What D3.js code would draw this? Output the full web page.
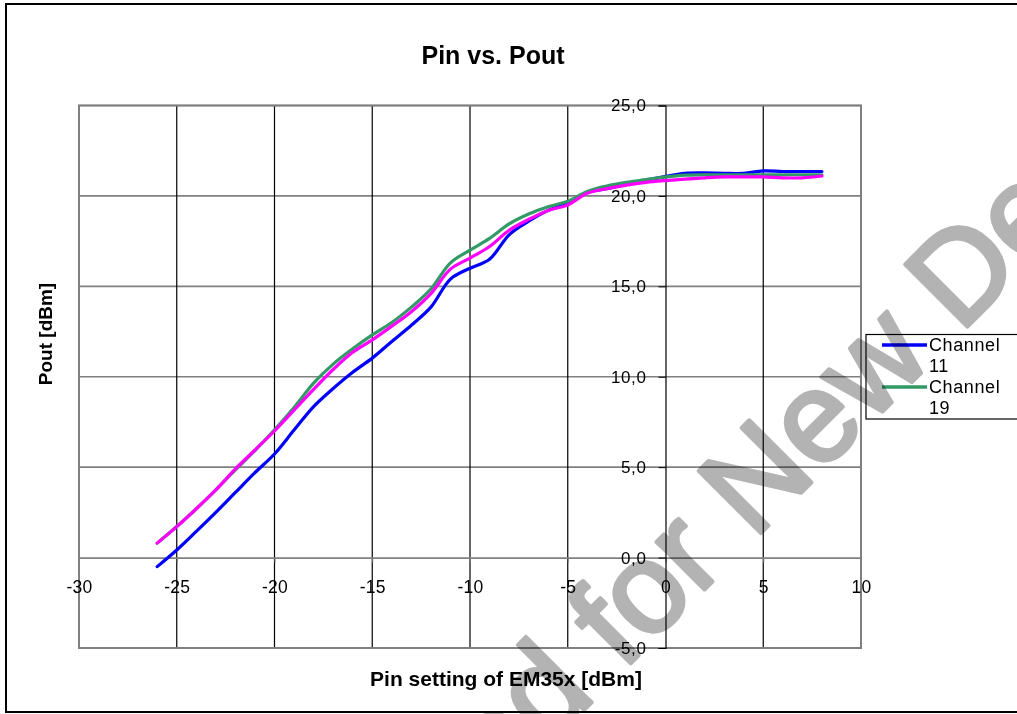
<!DOCTYPE html>
<html>
<head>
<meta charset="utf-8">
<script src="https://cdn.jsdelivr.net/npm/d3@7/dist/d3.min.js"></script>
<style>
    body { margin: 0; background: #fff; }
    svg { display: block; font-family: "Liberation Sans", Arial, sans-serif; }
</style>
</head>
<body>
<svg id="chart" width="1017" height="714"></svg>
<script>
// Pin setting of EM35x [dBm]
const pinSetting = [-26, -25, -24, -23, -22, -21, -20, -19, -18, -17, -16, -15, -14, -13, -12, -11, -10,
    -9, -8, -7, -6, -5, -4, -3, -2, -1, 0, 1, 2, 3, 4, 5, 6, 7, 8];

// Pout [dBm] per channel
const channel11 = [-0.5, 0.42, 1.45, 2.5, 3.6, 4.7, 5.73, 7.05, 8.35, 9.35, 10.25, 11.03, 11.95, 12.85, 13.85, 15.4, 16.0,
    16.5, 17.85, 18.6, 19.2, 19.6, 20.2, 20.4, 20.65, 20.85, 21.08, 21.25, 21.27, 21.25, 21.25, 21.38, 21.35, 21.35, 21.35];
const channel19 = [0.8, 1.72, 2.7, 3.75, 4.85, 5.92, 7.06, 8.3, 9.65, 10.7, 11.55, 12.32, 13.0, 13.85, 14.85, 16.3, 17.0,
    17.65, 18.45, 19.0, 19.4, 19.7, 20.25, 20.55, 20.75, 20.9, 21.05, 21.15, 21.17, 21.17, 21.17, 21.17, 21.17, 21.17, 21.17];
const channel26 = [0.8, 1.71, 2.7, 3.74, 4.9, 5.95, 7.0, 8.15, 9.3, 10.4, 11.35, 12.04, 12.8, 13.6, 14.6, 15.95, 16.56,
    17.2, 18.1, 18.7, 19.2, 19.5, 20.15, 20.4, 20.6, 20.75, 20.85, 20.93, 21.0, 21.05, 21.05, 21.05, 21.0, 21.0, 21.1];

const seriesNames = ['Channel 11', 'Channel 19', 'Channel 26'];
const seriesColors = ['#0000ff', '#339966', '#ff00ff'];
const legendLines = [['Channel', '11'], ['Channel', '19']];

const xTicks = [-30, -25, -20, -15, -10, -5, 0, 5, 10];
const yTicks = [-5, 0, 5, 10, 15, 20, 25];

const svg = d3.select('#chart');
const plot = { left: 79, right: 861, top: 105.5, bottom: 648 };

const x = d3.scaleLinear().domain([-30, 10]).range([plot.left, plot.right]);
const y = d3.scaleLinear().domain([-5, 25]).range([plot.bottom, plot.top]);

// outer chart frame
svg.append('rect')
    .attr('x', 6).attr('y', 4)
    .attr('width', 1030).attr('height', 708)
    .attr('fill', '#fff')
    .attr('stroke', '#000')
    .attr('stroke-width', 2);

svg.append('text')
    .attr('x', 493).attr('y', 64)
    .attr('text-anchor', 'middle')
    .attr('font-size', 25)
    .attr('font-weight', 'bold')
    .text('Pin vs. Pout');

// grid
const grid = svg.append('g');
grid.selectAll('line.h')
    .data(yTicks.filter(d => d !== 0))
    .join('line')
    .attr('x1', plot.left).attr('x2', plot.right)
    .attr('y1', d => y(d)).attr('y2', d => y(d))
    .attr('stroke', '#808080')
    .attr('stroke-width', 1.6);

grid.selectAll('line.v')
    .data(xTicks.filter(d => d !== -30 && d !== 10 && d !== 0))
    .join('line')
    .attr('x1', d => x(d)).attr('x2', d => x(d))
    .attr('y1', plot.top).attr('y2', plot.bottom)
    .attr('stroke', '#000')
    .attr('stroke-width', 1.2);

svg.append('rect')
    .attr('x', plot.left).attr('y', plot.top)
    .attr('width', plot.right - plot.left).attr('height', plot.bottom - plot.top)
    .attr('fill', 'none')
    .attr('stroke', '#808080')
    .attr('stroke-width', 2);

// x axis crosses at y = 0
const xAxis = svg.append('g')
    .attr('transform', `translate(0,${y(0)})`)
    .call(d3.axisBottom(x).tickValues(xTicks).tickSize(5).tickPadding(18).tickSizeOuter(0)
        .tickFormat(d => String(d)));
xAxis.select('.domain').attr('stroke', '#808080').attr('stroke-width', 1.6);
xAxis.selectAll('.tick line').attr('stroke', '#808080');
xAxis.selectAll('text').attr('font-size', 17.5).attr('fill', '#000')
    .attr('letter-spacing', 0.3)
    .attr('font-family', '"Liberation Sans", Arial, sans-serif');

// y axis crosses at x = 0
const yAxis = svg.append('g')
    .attr('transform', `translate(${x(0)},0)`)
    .call(d3.axisLeft(y).tickValues(yTicks).tickSize(7).tickPadding(12)
        .tickFormat(d => d.toFixed(1).replace('.', ',').replace('\u2212', '-')));
yAxis.select('.domain').attr('stroke', '#000').attr('stroke-width', 1.2);
yAxis.selectAll('.tick line').attr('stroke', '#000');
yAxis.selectAll('text').attr('font-size', 17).attr('fill', '#000')
    .attr('letter-spacing', 0.6)
    .attr('font-family', '"Liberation Sans", Arial, sans-serif');

// series
const line = d3.line()
    .curve(d3.curveCatmullRom)
    .x((d, i) => x(pinSetting[i]))
    .y(d => y(d));

[channel11, channel19, channel26].forEach((values, i) => {
    svg.append('path')
        .datum(values)
        .attr('d', line)
        .attr('fill', 'none')
        .attr('stroke', seriesColors[i])
        .attr('stroke-width', 3.2)
        .attr('stroke-linejoin', 'round')
        .attr('stroke-linecap', 'round');
});

// axis titles
svg.append('text')
    .attr('x', 506).attr('y', 686)
    .attr('text-anchor', 'middle')
    .attr('font-size', 21)
    .attr('font-weight', 'bold')
    .text('Pin setting of EM35x [dBm]');

svg.append('text')
    .attr('transform', 'translate(52,334) rotate(-90)')
    .attr('text-anchor', 'middle')
    .attr('font-size', 19)
    .attr('font-weight', 'bold')
    .text('Pout [dBm]');

// legend (runs off the right edge)
const legend = svg.append('g').attr('transform', 'translate(866,334.5)');
legend.append('rect')
    .attr('width', 170).attr('height', 84.5)
    .attr('fill', '#fff')
    .attr('stroke', '#000')
    .attr('stroke-width', 1.2);

legendLines.forEach((lines, i) => {
    const top = 10.5 + i * 42;
    legend.append('line')
        .attr('x1', 16).attr('x2', 61)
        .attr('y1', top).attr('y2', top)
        .attr('stroke', seriesColors[i])
        .attr('stroke-width', 3.5);
    lines.forEach((t, j) => {
        legend.append('text')
            .attr('x', 63).attr('y', top + j * 21)
            .attr('dy', '0.36em')
            .attr('font-size', 18)
            .attr('letter-spacing', 0.6)
            .text(t);
    });
});

// watermark
const mark = svg.append('g')
    .attr('transform', 'translate(960,334) rotate(-45)')
    .style('mix-blend-mode', 'multiply')
    .attr('fill', '#b3b3b3')
    .attr('stroke', '#b3b3b3')
    .attr('stroke-width', 4)
    .attr('stroke-linejoin', 'round')
    .attr('font-size', 128);
mark.append('text')
    .attr('x', -36)
    .attr('text-anchor', 'end')
    .text('Not Recommended for New');
mark.append('text')
    .attr('x', 0)
    .text('Designs');
</script>
</body>
</html>
